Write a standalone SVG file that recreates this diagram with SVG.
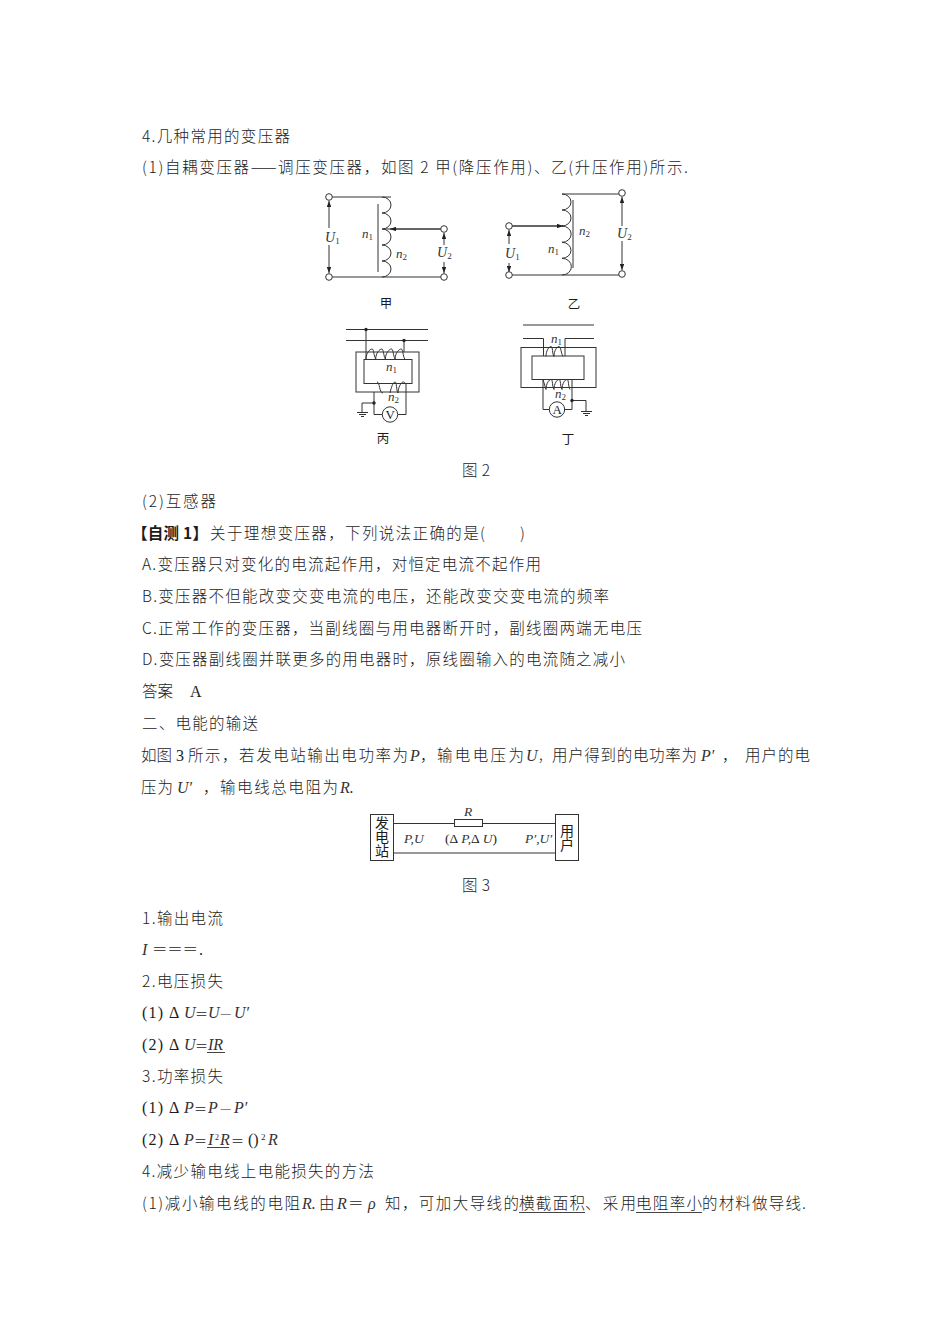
<svg xmlns="http://www.w3.org/2000/svg" width="950" height="1344" viewBox="0 0 950 1344">
<style>
text{font-family:"Noto Sans CJK SC","Liberation Serif",sans-serif;font-size:15.5px;fill:#1c1c1c;font-weight:300}
.l{font-family:"Liberation Serif","Noto Sans CJK SC",serif;font-size:16px}
.i{font-family:"Liberation Serif",serif;font-style:italic;font-weight:400;font-size:16px;fill:#333}
.b{font-weight:700}
.d{font-size:14px}
.n{font-size:13px}
.su{font-size:9px;font-style:normal}
.c{font-size:12.5px;text-anchor:middle;font-weight:400}
.m{font-size:13.5px}
.v{font-size:14px;font-weight:400;writing-mode:vertical-rl}
.w{fill:none;stroke:#333;stroke-width:1}
.t{fill:#fff;stroke:#333;stroke-width:1}
.u{stroke:#444;stroke-width:1}
.dot{fill:#222}
</style>
<defs>
<marker id="a" viewBox="0 0 8 6" refX="8" refY="3" markerWidth="6" markerHeight="4.5" markerUnits="userSpaceOnUse" orient="auto-start-reverse"><path d="M0,0L8,3L0,6z" fill="#222"/></marker>
</defs>
<rect width="950" height="1344" fill="#fff"/>

<g id="body-top">
<text x="142" y="142" textLength="148">4.几种常用的变压器</text>
<text x="142" y="173" textLength="546">(1)自耦变压器——调压变压器，如图 2 甲(降压作用)、乙(升压作用)所示.</text>
<text x="462" y="476" textLength="28">图 2</text>
<text x="142" y="507" textLength="74">(2)互感器</text>
<text class="b" x="132" y="539" textLength="76">【自测 1】</text>
<text x="210" y="539" textLength="315">关于理想变压器，下列说法正确的是(　　)</text>
<text x="142" y="570" textLength="399">A.变压器只对变化的电流起作用，对恒定电流不起作用</text>
<text x="142" y="602" textLength="467">B.变压器不但能改变交变电流的电压，还能改变交变电流的频率</text>
<text x="142" y="634" textLength="500">C.正常工作的变压器，当副线圈与用电器断开时，副线圈两端无电压</text>
<text x="142" y="665" textLength="483">D.变压器副线圈并联更多的用电器时，原线圈输入的电流随之减小</text>
<text x="142" y="697" textLength="31">答案</text>
<text class="l" x="190" y="697">A</text>
<text x="142" y="729" textLength="116">二、电能的输送</text>
<text x="141" y="761">如图</text><text class="l" x="176" y="761">3</text>
<text x="188" y="761" textLength="220">所示，若发电站输出电功率为</text>
<text class="i" x="410" y="761">P</text><text x="420" y="761">，</text>
<text x="437" y="761" textLength="87">输电电压为</text>
<text class="i" x="526" y="761">U</text><text x="538" y="761" style="font-size:13px">，</text>
<text x="552" y="761" textLength="145">用户得到的电功率为</text>
<text class="i" x="701" y="761">P′</text><text x="722" y="761">，</text>
<text x="745" y="761" textLength="65">用户的电</text>
<text x="141" y="793" textLength="32">压为</text>
<text class="i" x="177" y="793">U′</text><text x="203" y="793">，</text>
<text x="220" y="793" textLength="118">输电线总电阻为</text>
<text class="i" x="340" y="793">R.</text>
<text x="462" y="891" textLength="28">图 3</text>
</g>

<g id="transformer-jia">
<path class="w" d="M329,197H391M329,277H444"/>
<path class="w" d="M382,197a9,8 0 0 1 0,16a9,8 0 0 1 0,16a9,8 0 0 1 0,16a9,8 0 0 1 0,16a9,8 0 0 1 0,16"/>
<path class="w" d="M378,204V272"/>
<path class="w" d="M444,229H383"/>
<path class="w" marker-end="url(#a)" d="M444,229H390"/>
<path class="w" marker-end="url(#a)" d="M329,228V201"/>
<path class="w" marker-end="url(#a)" d="M329,245V273"/>
<path class="w" marker-end="url(#a)" d="M444,245V233"/>
<path class="w" marker-end="url(#a)" d="M444,262V273"/>
<circle class="t" cx="329" cy="197" r="3.3"/><circle class="t" cx="329" cy="277" r="3.3"/><circle class="t" cx="444" cy="229" r="3.3"/><circle class="t" cx="444" cy="277" r="3.3"/>
<text class="i d" x="325" y="242">U<tspan class="su" dy="2">1</tspan></text>
<text class="i d" x="437" y="257">U<tspan class="su" dy="2">2</tspan></text>
<text class="i n" x="362" y="238">n<tspan class="su" dy="2">1</tspan></text>
<text class="i n" x="396" y="258">n<tspan class="su" dy="2">2</tspan></text>
<text class="c" x="386" y="308">甲</text>
</g>

<g id="transformer-yi">
<path class="w" d="M562,194H622M509,226H563M562,275H509M562,275H622"/>
<path class="w" d="M562,194a9,8 0 0 1 0,16a9,8 0 0 1 0,16a9,8 0 0 1 0,16.3a9,8 0 0 1 0,16a9,8 0 0 1 0,16.7"/>
<path class="w" d="M573,200V268"/>
<path class="w" marker-end="url(#a)" d="M509,226H563"/>
<path class="w" marker-end="url(#a)" d="M509,244V230"/>
<path class="w" marker-end="url(#a)" d="M509,263V272"/>
<path class="w" marker-end="url(#a)" d="M622,226V197"/>
<path class="w" marker-end="url(#a)" d="M622,241V270"/>
<circle class="t" cx="509" cy="226" r="3.3"/><circle class="t" cx="509" cy="275" r="3.3"/><circle class="t" cx="622" cy="193" r="3.3"/><circle class="t" cx="622" cy="274" r="3.3"/>
<text class="i d" x="505" y="258">U<tspan class="su" dy="2">1</tspan></text>
<text class="i d" x="617" y="238">U<tspan class="su" dy="2">2</tspan></text>
<text class="i n" x="548" y="253">n<tspan class="su" dy="2">1</tspan></text>
<text class="i n" x="579" y="235">n<tspan class="su" dy="2">2</tspan></text>
<text class="c" x="574" y="309">乙</text>
</g>

<g id="transformer-bing">
<path class="w" d="M346,329.5H428M346,340.5H428M366,329.5V359M404,340.5V352"/>
<rect class="w" x="356" y="352" width="63" height="40"/>
<rect class="w" x="364" y="359.5" width="48" height="24"/>
<path class="w" d="M366,359c0,-6 4,-10 6,-10c2,0 1.7,7 3.7,10c0,-6 4,-10 6,-10c2,0 1.7,7 3.7,10c0,-6 4,-10 6,-10c2,0 1.7,7 3.7,10c0,-6 4,-10 6,-10c2,0 1.7,7 3.7,10"/>
<path class="w" d="M374,392V414.5H382M398,414.5H406V384M362,403H374M362,403V412"/>
<path class="w" d="M377,382c3,0 2,11 6,11M390,393c1,-5 3,-11 5,-11c2,0 1,8 3,11c0,-5 3,-11 5,-11c1,0 2,0 2,2"/>
<circle class="dot" cx="366" cy="329.5" r="1.7"/><circle class="dot" cx="404" cy="340.5" r="1.7"/><circle class="dot" cx="374" cy="403" r="1.7"/>
<circle class="w" cx="390" cy="414.5" r="7.7"/>
<path class="w" d="M357,412.5H368M359,414.5H366M361,416.5H364"/>
<text class="l" x="385.5" y="419" style="font-size:13px">V</text>
<text class="i n" x="386" y="371">n<tspan class="su" dy="2">1</tspan></text>
<text class="i n" x="388" y="401">n<tspan class="su" dy="2">2</tspan></text>
<text class="c" x="383" y="443">丙</text>
</g>

<g id="transformer-ding">
<path class="w" d="M523,325H594M523,338.5H543.5V356M565,356V338.5H594"/>
<rect class="w" x="521" y="347.5" width="75" height="40"/>
<rect class="w" x="532" y="356" width="52" height="23.5"/>
<path class="w" d="M546,356.5c0,-6 3,-10 5,-10c2,0 1,7 3,10c0,-6 3,-10 5,-10c2,0 2,7 4,10"/>
<path class="w" d="M543,379.5V409.5H549M564,409.5H572V379.5M572,400.5H586V411"/>
<path class="w" d="M543,379.5l3,10c0,-6 3,-10 5,-10c2,0 1,7 3,10c0,-6 3,-10 5,-10c2,0 1,7 3,10c0,-6 3,-10 5,-10c2,0 1,7 3,10"/>
<circle class="dot" cx="572" cy="400.5" r="1.7"/>
<circle class="w" cx="557" cy="409.5" r="7.7"/>
<path class="w" d="M581,411.5H592M583,413.5H590M585,415.5H588"/>
<text class="l" x="552.5" y="414" style="font-size:13px">A</text>
<text class="i n" x="551" y="343">n<tspan class="su" dy="2">1</tspan></text>
<text class="i n" x="555" y="398">n<tspan class="su" dy="2">2</tspan></text>
<text class="c" x="568" y="444">丁</text>
</g>

<g id="power-line">
<path class="w" d="M393,823.5H454M482,823.5H555M393,853H555"/>
<rect class="w" x="454.5" y="819.5" width="28" height="7"/>
<g id="station">
<rect class="w" x="370.5" y="814.5" width="23" height="46"/>
<text class="v" x="382" y="816">发电站</text>
</g>
<g id="user">
<rect class="w" x="555.5" y="814.5" width="23" height="46"/>
<text class="v" x="567" y="824">用户</text>
</g>
<text class="i m" x="464" y="816">R</text>
<text class="i m" x="404" y="843">P,U</text>
<text class="l m" x="445" y="843" textLength="52">(Δ<tspan class="i m"> P,</tspan>Δ<tspan class="i m"> U</tspan>)</text>
<text class="i m" x="525" y="843">P′,U′</text>
</g>

<g id="body-bottom">
<text x="142" y="924" textLength="81">1.输出电流</text>
<text class="i" x="142" y="955">I</text><text x="152" y="955" textLength="46">＝＝＝</text><text class="l" x="199" y="955">.</text>
<text x="142" y="987" textLength="81">2.电压损失</text>
<text class="l" x="142" y="1018" textLength="21">(1)</text><text class="l" x="169" y="1018">Δ</text><text class="i" x="184" y="1018">U</text><text x="195" y="1018" style="font-size:13px">＝</text><text class="i" x="208" y="1018">U</text><text x="220" y="1018" style="font-size:13px">—</text><text class="i" x="234" y="1018">U′</text>
<text class="l" x="142" y="1050" textLength="21">(2)</text><text class="l" x="169" y="1050">Δ</text><text class="i" x="184" y="1050">U</text><text x="195" y="1050" style="font-size:13px">＝</text><text class="i" x="208" y="1050">IR</text>
<text x="142" y="1082" textLength="81">3.功率损失</text>
<text class="l" x="142" y="1113" textLength="21">(1)</text><text class="l" x="169" y="1113">Δ</text><text class="i" x="184" y="1113">P</text><text x="194" y="1113" style="font-size:13px">＝</text><text class="i" x="208" y="1113">P</text><text x="220" y="1113" style="font-size:13px">—</text><text class="i" x="234" y="1113">P′</text>
<text class="l" x="142" y="1145" textLength="21">(2)</text><text class="l" x="169" y="1145">Δ</text><text class="i" x="184" y="1145">P</text><text x="194" y="1145" style="font-size:13px">＝</text><text class="i" x="208" y="1145">I</text><text class="l" x="215" y="1140" style="font-size:8px">2</text><text class="i" x="220" y="1145">R</text><text x="231" y="1145" style="font-size:13px">＝</text><text class="l" x="248" y="1145">()</text><text class="l" x="261" y="1140" style="font-size:9px">2</text><text class="i" x="268" y="1145">R</text>
<text x="142" y="1177" textLength="232">4.减少输电线上电能损失的方法</text>
<text x="142" y="1209" textLength="158">(1)减小输电线的电阻</text>
<text class="i" x="302" y="1209">R.</text><text x="319" y="1209">由</text>
<text class="i" x="337" y="1209">R</text><text x="348" y="1209">＝</text><text class="i" x="368" y="1209">ρ</text>
<text x="385" y="1209" textLength="134">知，可加大导线的</text>
<text x="519" y="1209" textLength="66">横截面积</text>
<text x="585" y="1209" textLength="51">、采用</text>
<text x="636" y="1209" textLength="66">电阻率小</text>
<text x="702" y="1209" textLength="104">的材料做导线.</text>
<path class="u" d="M207,1052.5H225M207,1147.5H229M519,1212.5H585M636,1212.5H702"/>
</g>
</svg>
